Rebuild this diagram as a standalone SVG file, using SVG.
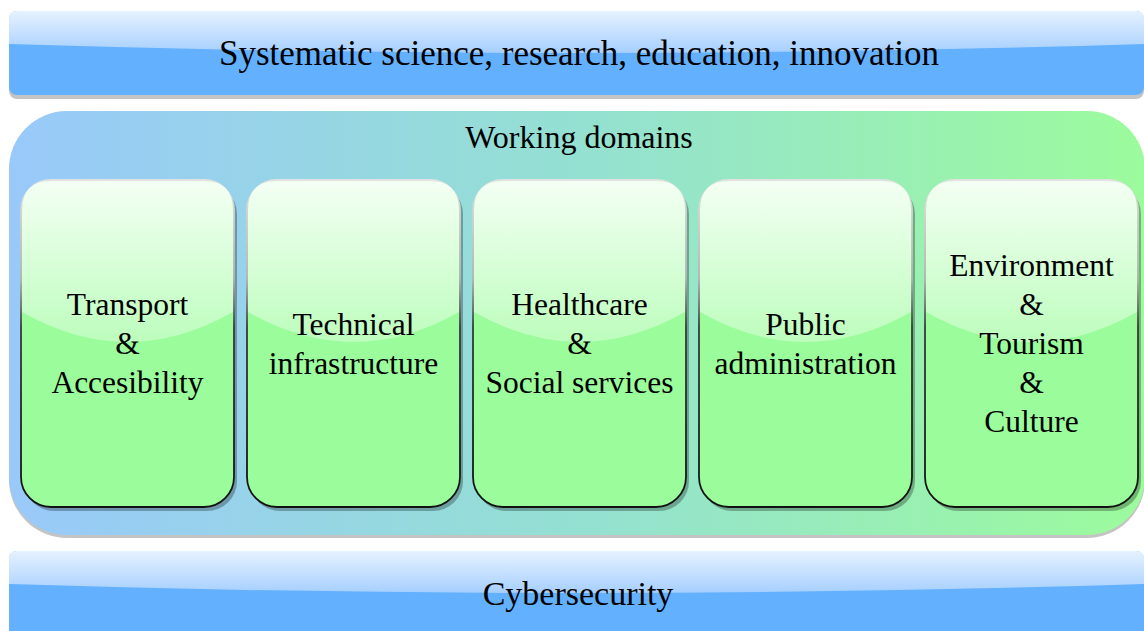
<svg xmlns="http://www.w3.org/2000/svg" width="1144" height="631" viewBox="0 0 1144 631">
  <defs>
    <!-- glossy blue band -->
    <linearGradient id="bandGloss" x1="0" y1="0" x2="0" y2="1">
      <stop offset="0" stop-color="#e6f2ff"/>
      <stop offset="1" stop-color="#a6cfff"/>
    </linearGradient>
    <!-- container wash, blue to green -->
    <linearGradient id="panelFill" x1="0" y1="0" x2="1" y2="0">
      <stop offset="0" stop-color="#99c9fa"/>
      <stop offset="0.5" stop-color="#94e0d2"/>
      <stop offset="1" stop-color="#9cfb9c"/>
    </linearGradient>
    <!-- glossy top of domain cards -->
    <linearGradient id="cardGloss" gradientUnits="userSpaceOnUse" x1="0" y1="180" x2="0" y2="345">
      <stop offset="0" stop-color="#f4fff4"/>
      <stop offset="1" stop-color="#bcfdbc"/>
    </linearGradient>
    <linearGradient id="cardStroke" gradientUnits="userSpaceOnUse" x1="0" y1="180" x2="0" y2="507">
      <stop offset="0" stop-color="#e2e2e2"/>
      <stop offset="0.3" stop-color="#b4b4b4"/>
      <stop offset="0.45" stop-color="#3a3a3a"/>
      <stop offset="1" stop-color="#111"/>
    </linearGradient>
  </defs>
  <style>
    .band { fill: #63b0ff; }
    .bandShadow { fill: #c4c4c4; }
    .panelShadow { fill: #c4c4c4; }
    .cardShadow { fill: #000; fill-opacity: 0.28; }
    .card { fill: #9bfc9b; stroke: url(#cardStroke); stroke-width: 1.8; }
    .cardGloss { fill: url(#cardGloss); }
    text { font-family: "Liberation Serif", "Times New Roman", serif; fill: #000; text-anchor: middle; }
    .big { font-size: 35px; }
    .mid { font-size: 32px; }
    .lbl { font-size: 31.5px; }
  </style>

  <!-- top band -->
  <g id="top-band">
    <rect class="bandShadow" x="9" y="15" width="1135" height="84" rx="8"/>
    <rect class="band" x="9" y="11" width="1135" height="84" rx="8"/>
    <path d="M9,44 Q576,62 1144,44 L1144,19 Q1144,11 1136,11 L17,11 Q9,11 9,19 Z" fill="url(#bandGloss)"/>
    <text class="big" x="579" y="65">Systematic science, research, education, innovation</text>
  </g>

  <!-- working domains panel -->
  <g id="panel">
    <rect class="panelShadow" x="9" y="114" width="1136" height="424" rx="58"/>
    <rect x="9" y="111" width="1136" height="424" rx="58" fill="url(#panelFill)"/>
    <text class="mid" x="579" y="148">Working domains</text>
  </g>

  <!-- domain cards -->
  <g id="card-transport">
    <rect class="cardShadow" x="24" y="184" width="213" height="327" rx="30"/>
    <rect class="card" x="21" y="180" width="213" height="327" rx="30"/>
    <path class="cardGloss" d="M22,312 Q127.5,372 233,312 L233,210 Q233,181 204,181 L51,181 Q22,181 22,210 Z"/>
    <text class="lbl" x="127.5" y="315">Transport</text>
    <text class="lbl" x="127.5" y="354">&amp;</text>
    <text class="lbl" x="127.5" y="393">Accesibility</text>
  </g>

  <g id="card-technical">
    <rect class="cardShadow" x="250" y="184" width="213" height="327" rx="30"/>
    <rect class="card" x="247" y="180" width="213" height="327" rx="30"/>
    <path class="cardGloss" d="M248,312 Q353.5,372 459,312 L459,210 Q459,181 430,181 L277,181 Q248,181 248,210 Z"/>
    <text class="lbl" x="353.5" y="335">Technical</text>
    <text class="lbl" x="353.5" y="374">infrastructure</text>
  </g>

  <g id="card-healthcare">
    <rect class="cardShadow" x="476" y="184" width="213" height="327" rx="30"/>
    <rect class="card" x="473" y="180" width="213" height="327" rx="30"/>
    <path class="cardGloss" d="M474,312 Q579.5,372 685,312 L685,210 Q685,181 656,181 L503,181 Q474,181 474,210 Z"/>
    <text class="lbl" x="579.5" y="315">Healthcare</text>
    <text class="lbl" x="579.5" y="354">&amp;</text>
    <text class="lbl" x="579.5" y="393">Social services</text>
  </g>

  <g id="card-public">
    <rect class="cardShadow" x="702" y="184" width="213" height="327" rx="30"/>
    <rect class="card" x="699" y="180" width="213" height="327" rx="30"/>
    <path class="cardGloss" d="M700,312 Q805.5,372 911,312 L911,210 Q911,181 882,181 L729,181 Q700,181 700,210 Z"/>
    <text class="lbl" x="805.5" y="335">Public</text>
    <text class="lbl" x="805.5" y="374">administration</text>
  </g>

  <g id="card-environment">
    <rect class="cardShadow" x="928" y="184" width="213" height="327" rx="30"/>
    <rect class="card" x="925" y="180" width="213" height="327" rx="30"/>
    <path class="cardGloss" d="M926,312 Q1031.5,372 1137,312 L1137,210 Q1137,181 1108,181 L955,181 Q926,181 926,210 Z"/>
    <text class="lbl" x="1031.5" y="276">Environment</text>
    <text class="lbl" x="1031.5" y="315">&amp;</text>
    <text class="lbl" x="1031.5" y="354">Tourism</text>
    <text class="lbl" x="1031.5" y="393">&amp;</text>
    <text class="lbl" x="1031.5" y="432">Culture</text>
  </g>

  <!-- bottom band -->
  <g id="bottom-band">
    <rect class="band" x="9" y="551" width="1135" height="90" rx="8"/>
    <path d="M9,584 Q576,602 1144,584 L1144,559 Q1144,551 1136,551 L17,551 Q9,551 9,559 Z" fill="url(#bandGloss)"/>
    <text class="big" x="578" y="605" style="font-size:34px">Cybersecurity</text>
  </g>

  <!-- no connectors in this layout -->
  <g id="connectors"/>
</svg>
